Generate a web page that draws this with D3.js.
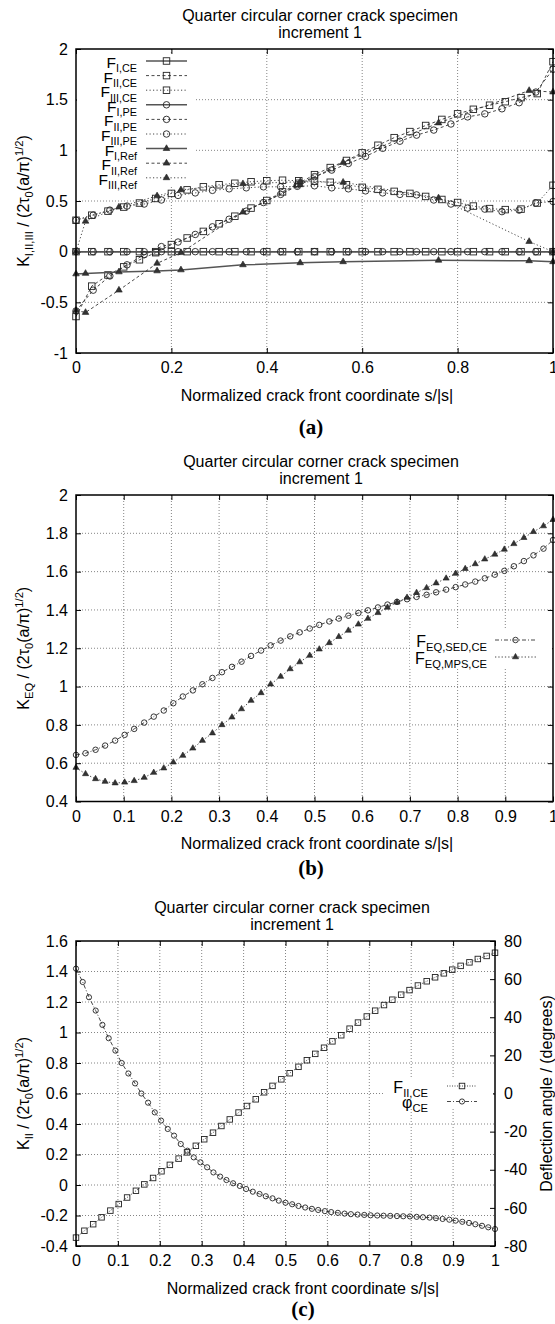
<!DOCTYPE html>
<html><head><meta charset="utf-8">
<script src="https://cdn.jsdelivr.net/npm/d3@7"></script>
<style>
body{margin:0;background:#fff}
</style>
</head><body>
<svg id="chart" width="555" height="1324" font-family="Liberation Sans, Arial, Helvetica, sans-serif"></svg>
<script>
// ---------------- Panel (a) data ----------------
const sCE = [0,0.033,0.067,0.1,0.133,0.167,0.2,0.233,0.267,0.3,0.333,0.367,0.4,0.433,0.467,0.5,0.533,0.567,0.6,0.633,0.667,0.7,0.733,0.767,0.8,0.833,0.867,0.9,0.933,0.967,1];
const sPE = [0,0.036,0.071,0.107,0.143,0.179,0.214,0.25,0.286,0.321,0.357,0.393,0.429,0.464,0.5,0.536,0.571,0.607,0.643,0.679,0.714,0.75,0.786,0.821,0.857,0.893,0.929,0.964,1];
const sRef = [0,0.02,0.09,0.17,0.22,0.35,0.47,0.56,0.76,0.95,1];
const fI_CE = [0,0,0,0,0,0,0,0,0,0,0,0,0,0,0,0,0,0,0,0,0,0,0,0,0,0,0,0,0,0,0];
const fII_CE = [-0.64,-0.34,-0.23,-0.15,-0.08,-0.01,0.07,0.135,0.2,0.275,0.35,0.43,0.505,0.59,0.675,0.76,0.83,0.9,0.975,1.05,1.125,1.185,1.245,1.305,1.36,1.405,1.445,1.48,1.52,1.56,1.875];
const fIII_CE = [0.31,0.36,0.40,0.44,0.48,0.525,0.575,0.61,0.64,0.66,0.675,0.69,0.70,0.705,0.70,0.695,0.685,0.66,0.635,0.615,0.595,0.575,0.545,0.515,0.485,0.45,0.425,0.415,0.42,0.48,0.655];
const fI_PE = [0,0,0,0,0,0,0,0,0,0,0,0,0,0,0,0,0,0,0,0,0,0,0,0,0,0,0,0,0];
const fII_PE = [-0.585,-0.38,-0.24,-0.13,-0.03,0.05,0.095,0.17,0.245,0.32,0.40,0.485,0.565,0.66,0.74,0.805,0.87,0.94,1.02,1.09,1.15,1.2,1.26,1.33,1.36,1.41,1.47,1.575,1.80];
const fIII_PE = [0.31,0.36,0.41,0.45,0.47,0.51,0.555,0.58,0.605,0.62,0.63,0.64,0.64,0.645,0.65,0.63,0.62,0.60,0.58,0.565,0.56,0.51,0.47,0.43,0.42,0.395,0.41,0.48,0.495];
const fI_Ref = [-0.22,-0.215,-0.2,-0.19,-0.18,-0.13,-0.11,-0.1,-0.085,-0.09,-0.1];
const fII_Ref = [-0.58,-0.6,-0.38,-0.115,-0.01,0.39,0.66,0.88,1.27,1.59,1.575];
const fIII_Ref = [0,0.30,0.44,0.55,0.61,0.67,0.69,0.685,0.53,0.1,0.0];

// ---------------- Panel (b) data ----------------
const sB = [0,0.020,0.041,0.061,0.082,0.102,0.122,0.143,0.163,0.184,0.204,0.224,0.245,0.265,0.286,0.306,0.327,0.347,0.367,0.388,0.408,0.429,0.449,0.469,0.490,0.510,0.531,0.551,0.571,0.592,0.612,0.633,0.653,0.673,0.694,0.714,0.735,0.755,0.776,0.796,0.816,0.837,0.857,0.878,0.898,0.918,0.939,0.959,0.980,1.000];
const fEQ_SED = [0.643,0.652,0.670,0.692,0.718,0.748,0.779,0.812,0.843,0.875,0.913,0.948,0.980,1.012,1.045,1.075,1.103,1.130,1.160,1.188,1.215,1.240,1.262,1.283,1.303,1.322,1.340,1.355,1.370,1.384,1.398,1.413,1.428,1.442,1.456,1.468,1.479,1.492,1.506,1.519,1.533,1.548,1.565,1.584,1.604,1.628,1.655,1.685,1.720,1.765];
const fEQ_MPS = [0.577,0.544,0.518,0.504,0.496,0.500,0.508,0.525,0.551,0.574,0.605,0.640,0.678,0.718,0.757,0.800,0.840,0.883,0.927,0.967,1.012,1.052,1.092,1.128,1.162,1.195,1.228,1.260,1.293,1.325,1.355,1.385,1.413,1.440,1.465,1.490,1.515,1.540,1.565,1.590,1.615,1.640,1.665,1.690,1.716,1.745,1.777,1.808,1.838,1.871];

// ---------------- Panel (c) data ----------------
const sC = [0,0.020,0.041,0.061,0.082,0.102,0.122,0.143,0.163,0.184,0.204,0.224,0.245,0.265,0.286,0.306,0.327,0.347,0.367,0.388,0.408,0.429,0.449,0.469,0.490,0.510,0.531,0.551,0.571,0.592,0.612,0.633,0.653,0.673,0.694,0.714,0.735,0.755,0.776,0.796,0.816,0.837,0.857,0.878,0.898,0.918,0.939,0.959,0.980,1.000];
const fII_C = [-0.345,-0.300,-0.257,-0.212,-0.168,-0.125,-0.082,-0.038,0.004,0.046,0.090,0.132,0.173,0.214,0.257,0.300,0.343,0.387,0.430,0.475,0.518,0.562,0.608,0.650,0.693,0.733,0.775,0.818,0.860,0.900,0.942,0.982,1.025,1.065,1.105,1.143,1.180,1.215,1.248,1.278,1.308,1.336,1.362,1.388,1.412,1.437,1.460,1.482,1.502,1.523];
const sPhi = [0,0.016,0.031,0.047,0.063,0.078,0.094,0.109,0.125,0.141,0.156,0.172,0.188,0.203,0.219,0.234,0.250,0.266,0.281,0.297,0.313,0.328,0.344,0.359,0.375,0.391,0.406,0.422,0.438,0.453,0.469,0.484,0.500,0.516,0.531,0.547,0.563,0.578,0.594,0.609,0.625,0.641,0.656,0.672,0.688,0.703,0.719,0.734,0.750,0.766,0.781,0.797,0.813,0.828,0.844,0.859,0.875,0.891,0.906,0.922,0.938,0.953,0.969,0.984,1.000];
const phiCE = [65.5,58.5,50.5,43.5,36.0,29.0,22.5,16.0,10.5,5.3,0.0,-4.8,-9.9,-14.2,-18.6,-22.1,-26.5,-30.0,-33.5,-36.1,-38.7,-41.4,-43.6,-45.4,-47.1,-48.5,-50.1,-51.5,-52.7,-53.9,-55.0,-56.2,-57.3,-58.1,-59.0,-59.8,-60.5,-61.1,-61.7,-62.2,-62.6,-63.0,-63.3,-63.5,-63.7,-63.9,-64.0,-64.1,-64.2,-64.3,-64.4,-64.5,-64.7,-64.9,-65.1,-65.4,-65.8,-66.2,-66.7,-67.3,-67.9,-68.6,-69.4,-70.2,-71.1];

// ---------------- Tick labels ----------------
const xTicksA = [0,0.2,0.4,0.6,0.8,1];
const yTicksA = [-1,-0.5,0,0.5,1,1.5,2];
const xTicksBC = [0,0.1,0.2,0.3,0.4,0.5,0.6,0.7,0.8,0.9,1];
const yTicksB = [0.4,0.6,0.8,1,1.2,1.4,1.6,1.8,2];
const yTicksC = [-0.4,-0.2,0,0.2,0.4,0.6,0.8,1,1.2,1.4,1.6];
const y2TicksC = [-80,-60,-40,-20,0,20,40,60,80];

const titleLine1 = "Quarter circular corner crack specimen";
const titleLine2 = "increment 1";
const xLabelText = "Normalized crack front coordinate s/|s|";

// ---------------- Drawing ----------------
const SANS = 'Liberation Sans, Arial, Helvetica, sans-serif';
const svg = d3.select('#chart');
svg.append('rect').attr('width',555).attr('height',1324).attr('fill','#fff');
const FS = 16;
const INK = '#222';

function rich(sel, parts, fs){
  let cur = 0;
  parts.forEach(([t,m])=>{
    const target = m===-1 ? 0.28*fs : (m===1 ? -0.4*fs : 0);
    const ts = sel.append('tspan').text(t);
    if (target-cur !== 0) ts.attr('dy', target-cur);
    if (m) ts.attr('font-size', fs*0.7);
    cur = target;
  });
}

function drawMarker(g, type, cx, cy, sz){
  if (type==='square'){
    g.append('rect').attr('x',cx-sz/2).attr('y',cy-sz/2).attr('width',sz).attr('height',sz)
      .attr('fill','none').attr('stroke',INK).attr('stroke-width',0.9);
  } else if (type==='circle'){
    g.append('circle').attr('cx',cx).attr('cy',cy).attr('r',sz/2)
      .attr('fill','none').attr('stroke',INK).attr('stroke-width',0.9);
  } else {
    g.append('path').attr('d', d3.symbol(d3.symbolTriangle, sz*sz*0.45)())
      .attr('transform',`translate(${cx},${cy})`).attr('fill','#333').attr('stroke',INK).attr('stroke-width',0.6);
  }
}

function panel(o){
  const g = svg.append('g');
  const x = d3.scaleLinear().domain([0,1]).range([o.L,o.R]);
  const y = d3.scaleLinear().domain(o.yDom).range([o.B,o.T]);
  const y2 = o.y2Dom ? d3.scaleLinear().domain(o.y2Dom).range([o.B,o.T]) : null;

  // grid
  const grid = g.append('g').attr('stroke','#666').attr('stroke-width',0.8).attr('stroke-dasharray','1,2');
  grid.selectAll('line.gx').data(o.xTicks.filter(v=>v>0&&v<1)).join('line').attr('class','gx')
    .attr('x1',d=>x(d)).attr('x2',d=>x(d)).attr('y1',o.T).attr('y2',o.B);
  grid.selectAll('line.gy').data(o.yTicks.filter(v=>v>o.yDom[0]&&v<o.yDom[1])).join('line').attr('class','gy')
    .attr('x1',o.L).attr('x2',o.R).attr('y1',d=>y(d)).attr('y2',d=>y(d));

  // axes (inward ticks)
  const styleAxis = a => { a.select('.domain').remove(); a.attr('font-size',FS).attr('font-family',SANS); a.selectAll('line').attr('stroke','#000'); };
  g.append('g').attr('transform',`translate(0,${o.B})`)
    .call(d3.axisBottom(x).tickValues(o.xTicks).tickSize(-5).tickPadding(9).tickFormat(d=>String(d))).call(styleAxis);
  g.append('g').attr('transform',`translate(0,${o.T})`)
    .call(d3.axisTop(x).tickValues(o.xTicks).tickSize(-5).tickFormat('')).call(styleAxis);
  g.append('g').attr('transform',`translate(${o.L},0)`)
    .call(d3.axisLeft(y).tickValues(o.yTicks).tickSize(-5).tickPadding(8).tickFormat(d=>String(d))).call(styleAxis);
  if (y2){
    g.append('g').attr('transform',`translate(${o.R},0)`)
      .call(d3.axisRight(y2).tickValues(o.y2Ticks).tickSize(-5).tickPadding(9).tickFormat(d=>String(d))).call(styleAxis);
  } else {
    g.append('g').attr('transform',`translate(${o.R},0)`)
      .call(d3.axisRight(y).tickValues(o.yTicks).tickSize(-5).tickFormat('')).call(styleAxis);
  }

  // legend background (opaque key)
  const lg = o.legend;
  g.append('rect').attr('x',lg.box[0]).attr('y',lg.box[1]).attr('width',lg.box[2]).attr('height',lg.box[3]).attr('fill','#fff');

  // series
  o.series.forEach(sr=>{
    const sc = sr.axis2 ? y2 : y;
    const pts = sr.s.map((s,i)=>[x(s), sc(sr.v[i])]);
    g.append('path').attr('d', d3.line()(pts)).attr('fill','none')
      .attr('stroke', sr.solid ? '#555' : '#333').attr('stroke-width', sr.solid ? 1.5 : 0.9)
      .attr('stroke-dasharray', sr.dash || null);
    const mg = g.append('g');
    pts.forEach(p=>drawMarker(mg, sr.marker, p[0], p[1], sr.size));
  });

  // legend entries
  o.series.forEach((sr,i)=>{
    const ry = lg.y0 + i*lg.dy;
    const t = g.append('text').attr('x',lg.textX).attr('y',ry+lg.tOff).attr('text-anchor','end').attr('font-size',lg.fs||FS);
    rich(t, sr.label, lg.fs||FS);
    g.append('line').attr('x1',lg.x1).attr('x2',lg.x2).attr('y1',ry).attr('y2',ry)
      .attr('stroke', sr.solid ? '#555' : '#333').attr('stroke-width', sr.solid ? 1.5 : 0.9)
      .attr('stroke-dasharray', sr.dash || null);
    drawMarker(g, sr.marker, (lg.x1+lg.x2)/2, ry, sr.size);
  });

  // border
  g.append('rect').attr('x',o.L).attr('y',o.T).attr('width',o.R-o.L).attr('height',o.B-o.T)
    .attr('fill','none').attr('stroke','#000').attr('stroke-width',1.5);

  // titles
  g.append('text').attr('x',o.titleX).attr('y',o.T-28.5).attr('text-anchor','middle').attr('font-size',FS).text(titleLine1);
  g.append('text').attr('x',o.titleX).attr('y',o.T-11.5).attr('text-anchor','middle').attr('font-size',FS).text(titleLine2);
  g.append('text').attr('x',o.xlabX).attr('y',o.B+47.5).attr('text-anchor','middle').attr('font-size',FS).text(xLabelText);
  // y label
  const yl = g.append('text').attr('transform',`translate(29,${(o.T+o.B)/2}) rotate(-90)`).attr('text-anchor','middle').attr('font-size',FS);
  rich(yl, o.ylabel, FS);
  if (o.y2label){
    g.append('text').attr('transform',`translate(552,${(o.T+o.B)/2}) rotate(-90)`).attr('text-anchor','middle').attr('font-size',FS).text(o.y2label);
  }
  // panel letter
  g.append('text').attr('x',o.letterX).attr('y',o.letterY).attr('text-anchor','middle')
    .attr('font-size',21).attr('font-weight','bold').attr('font-family','Liberation Serif, Times New Roman, serif').text(o.letter);
}

const yDenom = [[' / (2τ',0],['0',-1],['(a/π)',0],['1/2',1],[')',0]];

panel({
  L:76, R:553, T:49, B:353, yDom:[-1,2], xTicks:xTicksA, yTicks:yTicksA,
  titleX:320, xlabX:317, letter:'(a)', letterX:311, letterY:434,
  ylabel:[['K',0],['I,II,III',-1]].concat(yDenom),
  legend:{box:[77,55,117,131], y0:61, dy:14.6, tOff:7, textX:137, x1:146, x2:187, fs:15.5},
  series:[
    {s:sCE, v:fI_CE, solid:true, marker:'square', size:6.5, label:[['F',0],['I,CE',-1]]},
    {s:sCE, v:fII_CE, dash:'3,2.5', marker:'square', size:6.5, label:[['F',0],['II,CE',-1]]},
    {s:sCE, v:fIII_CE, dash:'1.2,2.3', marker:'square', size:6.5, label:[['F',0],['III,CE',-1]]},
    {s:sPE, v:fI_PE, solid:true, marker:'circle', size:6.5, label:[['F',0],['I,PE',-1]]},
    {s:sPE, v:fII_PE, dash:'3,2.5', marker:'circle', size:6.5, label:[['F',0],['II,PE',-1]]},
    {s:sPE, v:fIII_PE, dash:'1.2,2.3', marker:'circle', size:6.5, label:[['F',0],['III,PE',-1]]},
    {s:sRef, v:fI_Ref, solid:true, marker:'triangle', size:6.5, label:[['F',0],['I,Ref',-1]]},
    {s:sRef, v:fII_Ref, dash:'3,2.5', marker:'triangle', size:6.5, label:[['F',0],['II,Ref',-1]]},
    {s:sRef, v:fIII_Ref, dash:'1.2,2.3', marker:'triangle', size:6.5, label:[['F',0],['III,Ref',-1]]}
  ]
});

panel({
  L:76, R:553, T:495, B:801.5, yDom:[0.4,2], xTicks:xTicksBC, yTicks:yTicksB,
  titleX:321, xlabX:317, letter:'(b)', letterX:311, letterY:875,
  ylabel:[['K',0],['EQ',-1]].concat(yDenom),
  legend:{box:[410,629,142,40], y0:640, dy:17, tOff:7, textX:487, x1:495, x2:536},
  series:[
    {s:sB, v:fEQ_SED, dash:'4,2,1,2', marker:'circle', size:5.5, label:[['F',0],['EQ,SED,CE',-1]]},
    {s:sB, v:fEQ_MPS, dash:'1.3,2', marker:'triangle', size:6, label:[['F',0],['EQ,MPS,CE',-1]]}
  ]
});

panel({
  L:76, R:495, T:941, B:1246, yDom:[-0.4,1.6], y2Dom:[-80,80], xTicks:xTicksBC, yTicks:yTicksC, y2Ticks:y2TicksC,
  titleX:292, xlabX:303, letter:'(c)', letterX:303, letterY:1316,
  ylabel:[['K',0],['II',-1]].concat(yDenom),
  y2label:'Deflection angle / (degrees)',
  legend:{box:[383,1077,110,32], y0:1086, dy:15.5, tOff:6.5, textX:428, x1:447, x2:477},
  series:[
    {s:sC, v:fII_C, dash:'1,1.5', marker:'square', size:5.5, label:[['F',0],['II,CE',-1]]},
    {s:sPhi, v:phiCE, axis2:true, dash:'4,2,1,2', marker:'circle', size:5.2, label:[['φ',0],['CE',-1]]}
  ]
});
</script>
</body></html>
